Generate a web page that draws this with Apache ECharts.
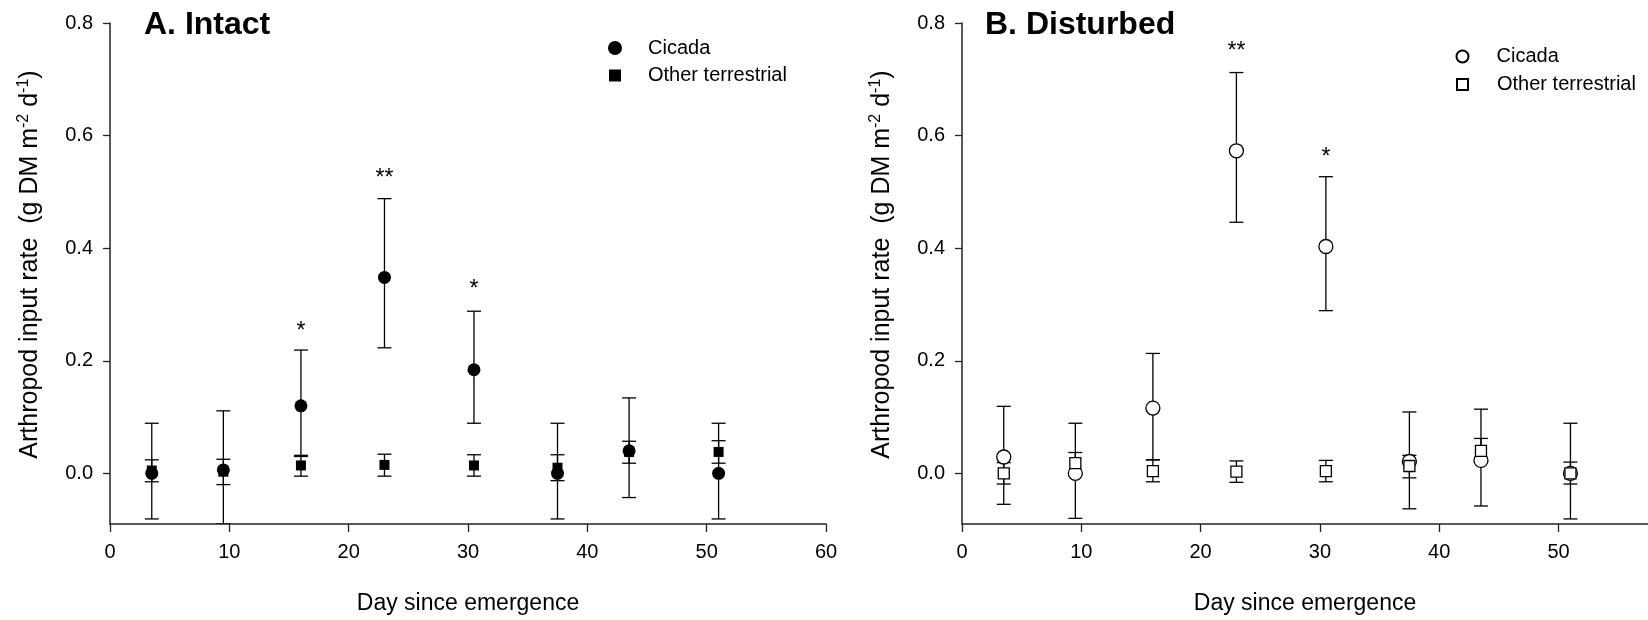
<!DOCTYPE html>
<html>
<head>
<meta charset="utf-8">
<script src="https://cdn.jsdelivr.net/npm/echarts@6/dist/echarts.min.js"></script>
<style>
  html, body { margin: 0; padding: 0; background: #fff; }
  #chart-container { width: 1648px; height: 620px; }
</style>
</head>
<body>
<div id="chart-container"></div>
<script>
var days = [3.5, 9.5, 16, 23, 30.5, 37.5, 43.5, 51];

// A. Intact
var intactCicada = [0.0, 0.006, 0.12, 0.348, 0.184, 0.0, 0.04, 0.0];
var intactCicadaHi = [0.089, 0.111, 0.219, 0.488, 0.288, 0.089, 0.134, 0.089];
var intactCicadaLo = [-0.081, -0.09, 0.032, 0.223, 0.089, -0.081, -0.043, -0.081];
var intactOther = [0.005, 0.003, 0.014, 0.015, 0.014, 0.01, 0.038, 0.038];
var intactOtherHi = [0.024, 0.025, 0.03, 0.034, 0.033, 0.033, 0.057, 0.058];
var intactOtherLo = [-0.015, -0.02, -0.005, -0.005, -0.005, -0.013, 0.018, 0.018];

// B. Disturbed
var distCicada = [0.029, 0.0, 0.116, 0.573, 0.403, 0.021, 0.023, 0.0];
var distCicadaHi = [0.119, 0.089, 0.213, 0.712, 0.527, 0.109, 0.114, 0.089];
var distCicadaLo = [-0.055, -0.08, 0.024, 0.446, 0.289, -0.063, -0.058, -0.081];
var distOther = [0.0, 0.018, 0.004, 0.003, 0.004, 0.013, 0.04, 0.0];
var distOtherHi = [0.019, 0.037, 0.024, 0.022, 0.023, 0.032, 0.062, 0.02];
var distOtherLo = [-0.019, 0.0, -0.015, -0.016, -0.015, -0.008, 0.019, -0.019];

// significance marks
var intactSigDays = [16, 23, 30.5];
var intactSigY = [0.252, 0.523, 0.327];
var intactSigText = ['*', '**', '*'];
var distSigDays = [23, 30.5];
var distSigY = [0.749, 0.561];
var distSigText = ['**', '*'];

var yTicks = [0, 0.2, 0.4, 0.6, 0.8];
var xTicksA = [0, 10, 20, 30, 40, 50, 60];
var xTicksB = [0, 10, 20, 30, 40, 50];

var FONT = "'Liberation Sans', Arial, sans-serif";

var dom = document.getElementById('chart-container');
var myChart = echarts.init(dom, null, { renderer: 'canvas' });

var errData = (hi, lo) => days.map((d, i) => [d, lo[i], hi[i]]);
var pts = (vals) => days.map((d, i) => [d, vals[i]]);
var sigData = (dd, yy, tt) => dd.map((d, i) => ({ value: [d, yy[i]], name: tt[i] }));

var renderErr = (params, api) => {
  var lo = api.coord([api.value(0), api.value(1)]);
  var hi = api.coord([api.value(0), api.value(2)]);
  var w = 7;
  var st = { stroke: '#000', lineWidth: 1.3 };
  return {
    type: 'group',
    children: [
      { type: 'line', shape: { x1: hi[0], y1: hi[1], x2: lo[0], y2: lo[1] }, style: st },
      { type: 'line', shape: { x1: hi[0] - w, y1: hi[1], x2: hi[0] + w, y2: hi[1] }, style: st },
      { type: 'line', shape: { x1: lo[0] - w, y1: lo[1], x2: lo[0] + w, y2: lo[1] }, style: st },
    ],
  };
};

var makeX = (idx, max, ticks) => ({
  type: 'value',
  gridIndex: idx,
  min: 0,
  max: max,
  name: 'Day since emergence',
  nameLocation: 'middle',
  nameGap: 68,
  nameTextStyle: { fontSize: 23, color: '#000', fontFamily: FONT },
  splitLine: { show: false },
  axisLine: { show: true, onZero: false, lineStyle: { color: '#222', width: 1.5 } },
  axisTick: { show: true, length: 8, customValues: ticks, lineStyle: { color: '#222', width: 1.3 } },
  axisLabel: { customValues: ticks, margin: 18, fontSize: 20, color: '#000', fontFamily: FONT },
});

var makeY = (idx) => ({
  type: 'value',
  gridIndex: idx,
  min: -0.09,
  max: 0.8,
  name: 'Arthropod input rate  (g DM m{sup|-2} d{sup|-1})',
  nameLocation: 'middle',
  nameGap: 66,
  nameTextStyle: {
    fontSize: 25, color: '#000', fontFamily: FONT,
    padding: [0, 0, 0, 18],
    rich: { sup: { fontSize: 16, color: '#000', fontFamily: FONT, padding: [0, 0, 12, 0] } },
  },
  splitLine: { show: false },
  axisLine: { show: true, lineStyle: { color: '#222', width: 1.5 } },
  axisTick: { show: true, length: 7, customValues: yTicks, lineStyle: { color: '#222', width: 1.3 } },
  axisLabel: {
    customValues: yTicks, margin: 17, fontSize: 20, color: '#000', fontFamily: FONT,
    formatter: (v) => v.toFixed(1),
  },
});

var filled = { color: '#000', opacity: 1 };
var open = { color: '#fff', borderColor: '#000', borderWidth: 1.3, opacity: 1 };

var legendText = (pad) => ({ fontSize: 20, color: '#000', fontFamily: FONT, padding: [0, 0, 0, pad] });

var sigSeries = (idx, data) => ({
  type: 'scatter',
  xAxisIndex: idx,
  yAxisIndex: idx,
  symbolSize: 1,
  itemStyle: { color: 'transparent', opacity: 1 },
  silent: true,
  data: data,
  label: {
    show: true, position: 'inside', formatter: (p) => p.name,
    fontSize: 23, color: '#000', fontFamily: FONT,
  },
  z: 5,
});

var option = {
  animation: false,
  backgroundColor: '#fff',
  title: [
    { text: 'A. Intact', left: 144, top: 9, padding: 0,
      textStyle: { fontSize: 32, fontWeight: 'bold', color: '#000', fontFamily: FONT } },
    { text: 'B. Disturbed', left: 985, top: 9, padding: 0,
      textStyle: { fontSize: 32, fontWeight: 'bold', color: '#000', fontFamily: FONT } },
  ],
  legend: [
    { data: ['Cicada'], left: 608, top: 38, padding: 0, itemWidth: 14, itemHeight: 14,
      icon: 'circle', textStyle: legendText(21) },
    { data: ['Other terrestrial'], left: 609, top: 65.5, padding: 0, itemWidth: 12, itemHeight: 12,
      icon: 'rect', textStyle: legendText(22) },
    { data: ['Cicada '], left: 1455.5, top: 46.5, padding: 0, itemWidth: 12, itemHeight: 12,
      icon: 'circle', textStyle: legendText(23) },
    { data: ['Other terrestrial '], left: 1456, top: 74.5, padding: 0, itemWidth: 11, itemHeight: 11,
      icon: 'rect', textStyle: legendText(24) },
  ],
  grid: [
    { left: 110, top: 23, width: 716, height: 501 },
    { left: 962, top: 23, width: 686, height: 501 },
  ],
  xAxis: [makeX(0, 60, xTicksA), makeX(1, 57.5, xTicksB)],
  yAxis: [makeY(0), makeY(1)],
  series: [
    { type: 'custom', xAxisIndex: 0, yAxisIndex: 0, renderItem: renderErr, clip: true, silent: true,
      data: errData(intactCicadaHi, intactCicadaLo) },
    { name: 'Cicada', type: 'scatter', xAxisIndex: 0, yAxisIndex: 0, symbol: 'circle', symbolSize: 13,
      itemStyle: filled, data: pts(intactCicada) },
    { type: 'custom', xAxisIndex: 0, yAxisIndex: 0, renderItem: renderErr, clip: true, silent: true,
      data: errData(intactOtherHi, intactOtherLo) },
    { name: 'Other terrestrial', type: 'scatter', xAxisIndex: 0, yAxisIndex: 0, symbol: 'rect', symbolSize: 10,
      itemStyle: filled, data: pts(intactOther) },

    { type: 'custom', xAxisIndex: 1, yAxisIndex: 1, renderItem: renderErr, clip: true, silent: true,
      data: errData(distCicadaHi, distCicadaLo) },
    { name: 'Cicada ', type: 'scatter', xAxisIndex: 1, yAxisIndex: 1, symbol: 'circle', symbolSize: 14,
      itemStyle: open, data: pts(distCicada) },
    { type: 'custom', xAxisIndex: 1, yAxisIndex: 1, renderItem: renderErr, clip: true, silent: true,
      data: errData(distOtherHi, distOtherLo) },
    { name: 'Other terrestrial ', type: 'scatter', xAxisIndex: 1, yAxisIndex: 1, symbol: 'rect', symbolSize: 11,
      itemStyle: open, data: pts(distOther) },

    sigSeries(0, sigData(intactSigDays, intactSigY, intactSigText)),
    sigSeries(1, sigData(distSigDays, distSigY, distSigText)),
  ],
};

myChart.setOption(option);
window.addEventListener('resize', myChart.resize);
</script>
</body>
</html>
